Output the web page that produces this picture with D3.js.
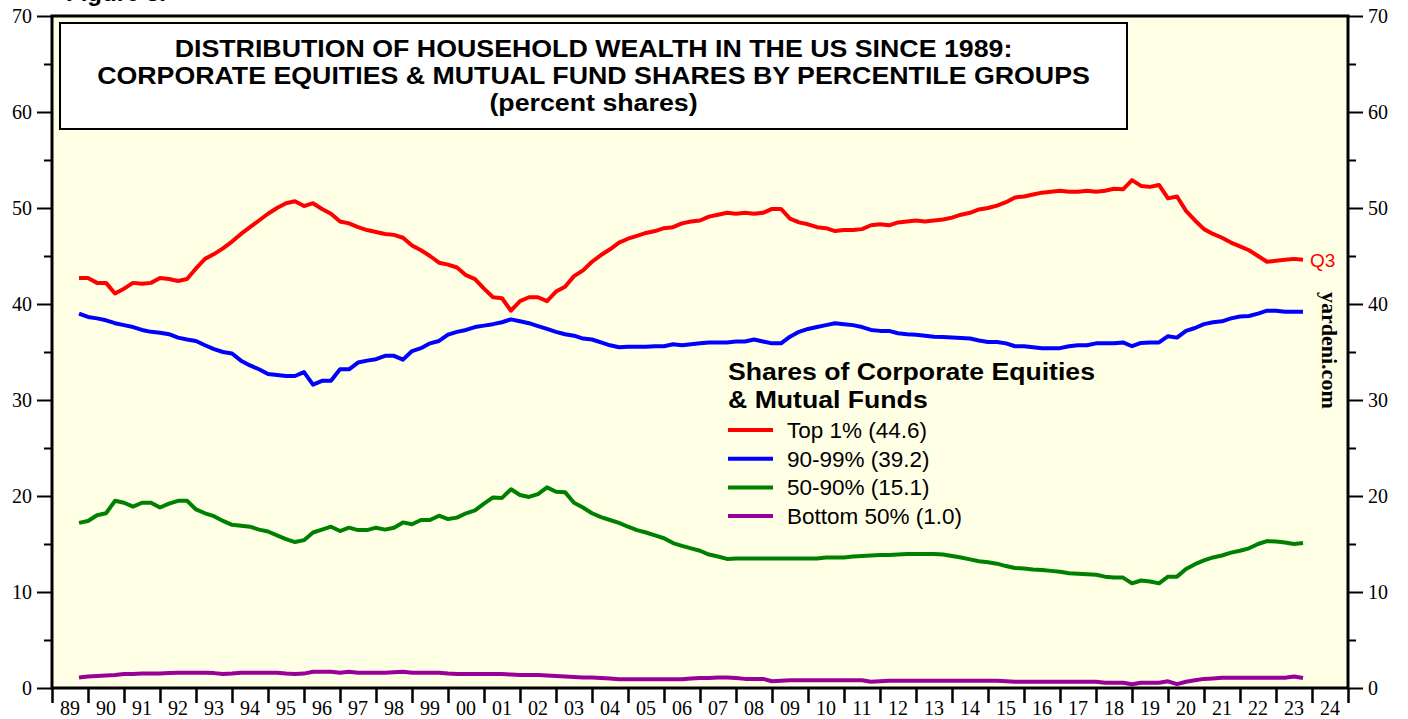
<!DOCTYPE html>
<html>
<head>
<meta charset="utf-8">
<script src="https://cdn.jsdelivr.net/npm/d3@7/dist/d3.min.js"></script>
<style>
  html, body { margin: 0; padding: 0; background: #ffffff; }
  svg { display: block; }
</style>
</head>
<body>
<svg id="chart" width="1408" height="719"></svg>
<script>
// ---------------- DATA (quarterly, 1989Q3 .. 2023Q3) ----------------
const firstYear = 1989, firstQuarter = 3, nQuarters = 137;

const top1 = [
  42.7, 42.7, 42.2, 42.2, 41.1, 41.6, 42.2, 42.1, 42.2, 42.7, 42.6, 42.4, 42.6, 43.7, 44.7, 45.2, 45.8, 46.5, 47.3, 48.0,
  48.7, 49.4, 50.0, 50.5, 50.7, 50.2, 50.5, 49.9, 49.4, 48.6, 48.4, 48.0, 47.7, 47.5, 47.3,
  47.2, 46.9, 46.1, 45.6, 45.0, 44.3, 44.1, 43.8, 43.0, 42.6, 41.6, 40.7, 40.6, 39.3, 40.3, 40.7, 40.7, 40.3, 41.3, 41.8,
  42.9, 43.5, 44.4, 45.1, 45.7, 46.4, 46.8, 47.1, 47.4, 47.6, 47.9, 48.0, 48.4, 48.6, 48.7,
  49.1, 49.3, 49.5, 49.4, 49.5, 49.4, 49.5, 49.9, 49.9, 48.9, 48.5, 48.3, 48.0, 47.9, 47.6, 47.7, 47.7, 47.8, 48.2, 48.3,
  48.2, 48.5, 48.6, 48.7, 48.6, 48.7, 48.8, 49.0, 49.3, 49.5, 49.85, 50.0, 50.25, 50.6, 51.1,
  51.2, 51.4, 51.6, 51.7, 51.8, 51.7, 51.7, 51.8, 51.7, 51.8, 52.0, 51.95, 52.9, 52.3, 52.2, 52.4, 51.0, 51.2, 49.7, 48.7,
  47.8, 47.3, 46.9, 46.4, 46.0, 45.6, 45.0, 44.4, 44.5, 44.6, 44.7, 44.6
];
const next9 = [
  39.0, 38.65, 38.5, 38.3, 38.0, 37.8, 37.6, 37.3, 37.1, 37.0, 36.85, 36.5, 36.3, 36.15, 35.7, 35.3, 35.0, 34.85, 34.1, 33.6,
  33.2, 32.7, 32.6, 32.5, 32.5, 32.9, 31.6, 32.0, 32.0, 33.2, 33.2, 33.9, 34.1, 34.25, 34.6,
  34.6, 34.2, 35.1, 35.4, 35.9, 36.15, 36.8, 37.1, 37.3, 37.6, 37.75, 37.9, 38.1, 38.4, 38.2, 38.0, 37.7, 37.4, 37.1, 36.85,
  36.7, 36.4, 36.3, 36.0, 35.7, 35.5, 35.55, 35.55, 35.55, 35.6, 35.6, 35.8, 35.7, 35.8, 35.9, 36.0,
  36.0, 36.0, 36.1, 36.1, 36.3, 36.1, 35.9, 35.9, 36.6, 37.1, 37.4, 37.6, 37.8, 38.0, 37.9, 37.8, 37.6, 37.3, 37.2, 37.2,
  36.95, 36.85, 36.8, 36.7, 36.6, 36.55, 36.5, 36.45, 36.4, 36.2, 36.05, 36.05, 35.9, 35.6, 35.6,
  35.5, 35.4, 35.4, 35.4, 35.6, 35.7, 35.7, 35.9, 35.9, 35.9, 36.0, 35.6, 35.95, 36.0, 36.0, 36.65, 36.5, 37.2, 37.5, 37.9,
  38.1, 38.2, 38.5, 38.7, 38.75, 39.0, 39.3, 39.3, 39.2, 39.2, 39.2
];
const next40 = [
  17.2, 17.4, 18.0, 18.2, 19.5, 19.3, 18.9, 19.3, 19.3, 18.8, 19.2, 19.5, 19.5, 18.6, 18.2, 17.9, 17.4, 17.0, 16.9, 16.8,
  16.5, 16.3, 15.9, 15.5, 15.2, 15.4, 16.2, 16.5, 16.8, 16.35, 16.7, 16.45, 16.45, 16.7, 16.5,
  16.7, 17.25, 17.05, 17.5, 17.5, 17.95, 17.6, 17.75, 18.2, 18.5, 19.2, 19.85, 19.8, 20.7, 20.1, 19.9, 20.2, 20.9, 20.45, 20.4,
  19.3, 18.8, 18.2, 17.8, 17.5, 17.2, 16.8, 16.45, 16.2, 15.9, 15.6, 15.1, 14.8, 14.55, 14.3, 13.9,
  13.7, 13.45, 13.5, 13.5, 13.5, 13.5, 13.5, 13.5, 13.5, 13.5, 13.5, 13.5, 13.6, 13.6, 13.6, 13.7, 13.75, 13.8, 13.85, 13.85,
  13.9, 13.95, 13.95, 13.95, 13.95, 13.9, 13.75, 13.6, 13.4, 13.2, 13.1, 12.95, 12.7, 12.5, 12.45,
  12.35, 12.3, 12.2, 12.1, 11.95, 11.9, 11.85, 11.8, 11.6, 11.5, 11.5, 10.9, 11.2, 11.1, 10.9, 11.6, 11.6, 12.4, 12.9, 13.3,
  13.6, 13.8, 14.1, 14.3, 14.55, 15.0, 15.3, 15.25, 15.15, 15.0, 15.1
];
const bottom50 = [
  1.1, 1.2, 1.25, 1.3, 1.35, 1.45, 1.45, 1.5, 1.5, 1.5,
  1.55, 1.6, 1.6, 1.6, 1.6, 1.55, 1.45, 1.5, 1.6, 1.6,
  1.6, 1.6, 1.6, 1.5, 1.45, 1.5, 1.7, 1.7, 1.7, 1.6,
  1.7, 1.6, 1.6, 1.6, 1.6, 1.65, 1.7, 1.6, 1.6, 1.6,
  1.6, 1.5, 1.45, 1.45, 1.45, 1.45, 1.45, 1.45, 1.4, 1.35,
  1.35, 1.35, 1.3, 1.25, 1.2, 1.15, 1.1, 1.1, 1.05, 1.0,
  0.9, 0.9, 0.9, 0.9, 0.9, 0.9, 0.9, 0.9, 1.0, 1.05,
  1.05, 1.1, 1.1, 1.05, 0.95, 0.95, 0.95, 0.7, 0.75, 0.8,
  0.8, 0.8, 0.8, 0.8, 0.8, 0.8, 0.8, 0.8, 0.65, 0.7,
  0.75, 0.75, 0.75, 0.75, 0.75, 0.75, 0.75, 0.75, 0.75, 0.75,
  0.75, 0.75, 0.75, 0.7, 0.65, 0.65, 0.65, 0.65, 0.65, 0.65,
  0.65, 0.65, 0.65, 0.65, 0.55, 0.55, 0.55, 0.4, 0.55, 0.55,
  0.55, 0.7, 0.4, 0.65, 0.8, 0.95, 1.0, 1.07, 1.07, 1.07,
  1.07, 1.07, 1.07, 1.07, 1.07, 1.2, 1.05
];

const seriesNames  = ["Top 1% (44.6)", "90-99% (39.2)", "50-90% (15.1)", "Bottom 50% (1.0)"];
const seriesColors = ["#ff0000", "#0000ff", "#008000", "#990099"];
const seriesValues = [top1, next9, next40, bottom50];

const yTicksMajor = [0, 10, 20, 30, 40, 50, 60, 70];
const yTicksMinor = [5, 15, 25, 35, 45, 55, 65];
const yearTicks = d3.range(1989, 2026);
const yearLabels = ["89","90","91","92","93","94","95","96","97","98","99","00","01","02","03","04","05","06","07","08","09","10","11","12","13","14","15","16","17","18","19","20","21","22","23","24"];

const titleLines = [
  "DISTRIBUTION OF HOUSEHOLD WEALTH IN THE US SINCE 1989:",
  "CORPORATE EQUITIES & MUTUAL FUND SHARES BY PERCENTILE GROUPS",
  "(percent shares)"
];
const legendHeader = ["Shares of Corporate Equities", "& Mutual Funds"];

// quarter-end time positions (decimal years)
const times = d3.range(nQuarters).map(i => firstYear + firstQuarter / 4 + i / 4);

// ---------------- LAYOUT ----------------
const svg = d3.select("#chart");
const x = d3.scaleLinear().domain([1989, 2025]).range([52, 1348]);
const y = d3.scaleLinear().domain([0, 70]).range([688, 16]);

const serif = "'Liberation Serif','Times New Roman',Times,serif";
const sans  = "'Liberation Sans',Arial,Helvetica,sans-serif";

// cut-off figure label above the chart (cropped in the reference too)
svg.append("text").attr("x", 66).attr("y", 1)
  .attr("font-family", sans).attr("font-weight", "bold").attr("font-size", 24)
  .text("Figure 5.");

// plot background
svg.append("rect")
  .attr("x", x(1989)).attr("y", y(70))
  .attr("width", x(2025) - x(1989)).attr("height", y(0) - y(70))
  .attr("fill", "#ffffe5");

// title box
const tb = svg.append("g");
tb.append("rect").attr("x", 60).attr("y", 23).attr("width", 1067).attr("height", 106)
  .attr("fill", "#ffffff").attr("stroke", "#000").attr("stroke-width", 2);
const titleY = [57, 84, 111];
titleLines.forEach((t, i) => {
  tb.append("text")
    .attr("transform", `translate(593.5,${titleY[i]}) scale(1.115,1)`)
    .attr("text-anchor", "middle")
    .attr("font-family", sans).attr("font-weight", "bold").attr("font-size", 24)
    .text(t);
});

// series lines
const line = d3.line().x(d => x(d.t)).y(d => y(d.v));
seriesValues.forEach((vals, k) => {
  const data = vals.map((v, i) => ({ t: times[i], v }));
  svg.append("path").datum(data)
    .attr("d", line)
    .attr("fill", "none")
    .attr("stroke", seriesColors[k])
    .attr("stroke-width", 4)
    .attr("stroke-linejoin", "round")
    .attr("stroke-linecap", "butt");
});

// Q3 label
svg.append("text")
  .attr("x", x(times[nQuarters - 1]) + 7).attr("y", y(top1[nQuarters - 1]) + 7)
  .attr("fill", "#ff0000").attr("font-family", sans).attr("font-size", 19)
  .text("Q3");

// legend
const lg = svg.append("g");
lg.selectAll("text.hdr").data(legendHeader).join("text")
  .attr("class", "hdr")
  .attr("transform", (d, i) => `translate(728,${380 + i * 28}) scale(1.11,1)`)
  .attr("font-family", sans).attr("font-weight", "bold").attr("font-size", 24)
  .text(d => d);
seriesNames.forEach((name, i) => {
  const ly = 430 + i * 28.7;
  lg.append("line").attr("x1", 728).attr("x2", 773).attr("y1", ly).attr("y2", ly)
    .attr("stroke", seriesColors[i]).attr("stroke-width", 4);
  lg.append("text").attr("x", 787).attr("y", ly + 8)
    .attr("font-family", sans).attr("font-size", 22.5)
    .text(name);
});

// yardeni.com vertical
svg.append("text")
  .attr("transform", "translate(1322,292) rotate(90)")
  .attr("font-family", serif).attr("font-weight", "bold").attr("font-size", 22)
  .text("yardeni.com");

// axes
function styleAxis(g, sw) {
  g.select(".domain").remove();
  g.selectAll(".tick line").attr("stroke", "#000").attr("stroke-width", sw);
  g.selectAll(".tick text").attr("font-family", serif).attr("font-size", 20).attr("fill", "#000");
}
const yl = svg.append("g").attr("transform", `translate(${x(1989)},0)`)
  .call(d3.axisLeft(y).tickValues(yTicksMajor).tickSize(15).tickPadding(5).tickFormat(d3.format("d")));
styleAxis(yl, 2);
const ylm = svg.append("g").attr("transform", `translate(${x(1989)},0)`)
  .call(d3.axisLeft(y).tickValues(yTicksMinor).tickSize(8).tickFormat(""));
styleAxis(ylm, 2);
const yr = svg.append("g").attr("transform", `translate(${x(2025)},0)`)
  .call(d3.axisRight(y).tickValues(yTicksMajor).tickSize(15).tickPadding(5).tickFormat(d3.format("d")));
styleAxis(yr, 2);
const yrm = svg.append("g").attr("transform", `translate(${x(2025)},0)`)
  .call(d3.axisRight(y).tickValues(yTicksMinor).tickSize(8).tickFormat(""));
styleAxis(yrm, 2);

const xb = svg.append("g").attr("transform", `translate(0,${y(0)})`)
  .call(d3.axisBottom(x).tickValues(yearTicks).tickSize(15).tickFormat(""));
styleAxis(xb, 2.5);
svg.append("g").selectAll("text").data(yearLabels).join("text")
  .attr("x", (d, i) => x(1989 + i + 0.5))
  .attr("y", y(0) + 27)
  .attr("text-anchor", "middle")
  .attr("font-family", serif).attr("font-size", 20)
  .text(d => d);

// frame
svg.append("rect")
  .attr("x", x(1989)).attr("y", y(70))
  .attr("width", x(2025) - x(1989)).attr("height", y(0) - y(70))
  .attr("fill", "none").attr("stroke", "#000").attr("stroke-width", 3);
</script>
</body>
</html>
